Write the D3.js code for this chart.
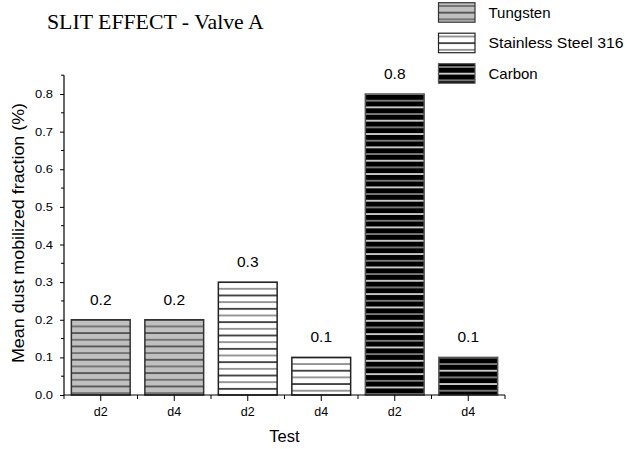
<!DOCTYPE html>
<html>
<head>
<meta charset="utf-8">
<script src="https://cdn.jsdelivr.net/npm/d3@7"></script>
<style>
  html, body { margin: 0; padding: 0; background: #fff; }
  svg { display: block; }
  text { font-family: "Liberation Sans", Arial, sans-serif; fill: #000; }
</style>
</head>
<body>
<svg id="chart" width="627" height="449"></svg>
<script>
// Chart data
const materials = ["Tungsten", "Stainless Steel 316", "Carbon"];
const tests = ["d2", "d4", "d2", "d4", "d2", "d4"];
const barMaterial = ["Tungsten", "Tungsten", "Stainless Steel 316", "Stainless Steel 316", "Carbon", "Carbon"];
const values = [0.2, 0.2, 0.3, 0.1, 0.8, 0.1];
const valueLabels = ["0.2", "0.2", "0.3", "0.1", "0.8", "0.1"];
const yTickValues = [0.0, 0.1, 0.2, 0.3, 0.4, 0.5, 0.6, 0.7, 0.8];
const yMinorTicks = [0.05, 0.15, 0.25, 0.35, 0.45, 0.55, 0.65, 0.75, 0.85];

// Hatch styles per material: fill, two alternating line colours, border
const styles = {
  "Tungsten": { fill: "#c0c0c0", lineA: "#3a3a3a", lineB: "#5e5e5e", stroke: "#333" },
  "Stainless Steel 316": { fill: "#ffffff", lineA: "#111111", lineB: "#777777", stroke: "#222" },
  "Carbon": { fill: "#000000", lineA: "#ffffff", lineB: "#9a9a9a", stroke: "#555" }
};

const svg = d3.select("#chart");
const defs = svg.append("defs");
const hatchStep = 6.67;

const x = d3.scaleBand()
  .domain(d3.range(values.length))
  .range([64, 505])
  .paddingInner(0.2)
  .paddingOuter(0.1);

const y = d3.scaleLinear().domain([0, 0.85]).range([395, 75.2]);

// One hatch pattern per bar so lines start from the bar top
function makePattern(id, style, originY) {
  const p = defs.append("pattern")
    .attr("id", id)
    .attr("patternUnits", "userSpaceOnUse")
    .attr("x", 0).attr("y", originY)
    .attr("width", 10).attr("height", hatchStep * 2);
  p.append("rect").attr("width", 10).attr("height", hatchStep * 2).attr("fill", style.fill);
  p.append("rect").attr("x", 0).attr("y", hatchStep - 0.75).attr("width", 10).attr("height", 1.5).attr("fill", style.lineB);
  p.append("rect").attr("x", 0).attr("y", hatchStep * 2 - 0.75).attr("width", 10).attr("height", 1.5).attr("fill", style.lineA);
  p.append("rect").attr("x", 0).attr("y", -0.75).attr("width", 10).attr("height", 1.5).attr("fill", style.lineA);
}

// Bars
values.forEach((v, i) => {
  const st = styles[barMaterial[i]];
  makePattern("hatch" + i, st, y(v));
});

svg.append("g").selectAll("rect")
  .data(values)
  .join("rect")
  .attr("x", (d, i) => x(i))
  .attr("y", d => y(d))
  .attr("width", x.bandwidth())
  .attr("height", d => y(0) - y(d))
  .attr("fill", (d, i) => `url(#hatch${i})`)
  .attr("stroke", (d, i) => styles[barMaterial[i]].stroke)
  .attr("stroke-width", 1.5);

// Value labels
svg.append("g").selectAll("text")
  .data(values)
  .join("text")
  .attr("x", (d, i) => x(i) + x.bandwidth() / 2)
  .attr("y", d => y(d) - 15)
  .attr("text-anchor", "middle")
  .attr("font-size", 15.5)
  .text((d, i) => valueLabels[i]);

// Y axis
const yAxis = d3.axisLeft(y)
  .tickValues(yTickValues)
  .tickFormat(d3.format(".1f"))
  .tickSize(4)
  .tickPadding(7);
const gy = svg.append("g").attr("transform", "translate(64,0)").call(yAxis);
gy.select(".domain").attr("d", `M0,${y(0.85)}V${y(0)}`).attr("stroke", "#000").attr("stroke-width", 1.2);
gy.selectAll(".tick line").attr("stroke", "#000");
gy.selectAll(".tick text")
  .attr("font-size", 11)
  .attr("font-family", "Liberation Sans, Arial, sans-serif")
  .attr("textLength", 18)
  .attr("lengthAdjust", "spacingAndGlyphs");
gy.append("g").selectAll("line")
  .data(yMinorTicks)
  .join("line")
  .attr("x1", -3).attr("x2", 0)
  .attr("y1", d => y(d)).attr("y2", d => y(d))
  .attr("stroke", "#000");

// X axis
const xAxis = d3.axisBottom(x)
  .tickFormat(i => tests[i])
  .tickSize(6)
  .tickPadding(6);
const gx = svg.append("g").attr("transform", `translate(0,${y(0)})`).call(xAxis);
gx.select(".domain").attr("d", `M64,0H505`).attr("stroke", "#000").attr("stroke-width", 1.2);
gx.selectAll(".tick line").attr("stroke", "#000");
gx.selectAll(".tick text").attr("font-size", 12.5).attr("font-family", "Liberation Sans, Arial, sans-serif");
const bounds = d3.range(values.length + 1).map(i => 64 + i * x.step());
gx.append("g").selectAll("line")
  .data(bounds)
  .join("line")
  .attr("x1", d => d).attr("x2", d => d)
  .attr("y1", 0).attr("y2", 4)
  .attr("stroke", "#000");

// Axis titles
svg.append("text")
  .attr("x", 284.5).attr("y", 442)
  .attr("text-anchor", "middle")
  .attr("font-size", 16.5)
  .text("Test");

svg.append("text")
  .attr("transform", "translate(24,233) rotate(-90)")
  .attr("text-anchor", "middle")
  .attr("font-size", 16)
  .attr("textLength", 260)
  .attr("lengthAdjust", "spacingAndGlyphs")
  .text("Mean dust mobilized fraction (%)");

// Title
svg.append("text")
  .attr("x", 47).attr("y", 29)
  .style("font-family", "'Liberation Serif', 'Times New Roman', serif")
  .attr("font-size", 21.8)
  .text("SLIT EFFECT - Valve A");

// Legend
const legend = svg.append("g");
materials.forEach((m, k) => {
  const st = styles[m];
  const top = 2.7 + k * 30.5;
  makePattern("legendHatch" + k, st, top + 3.3 - hatchStep);
  legend.append("rect")
    .attr("x", 438.5).attr("y", top)
    .attr("width", 36.5).attr("height", 19.5)
    .attr("fill", `url(#legendHatch${k})`)
    .attr("stroke", st.stroke)
    .attr("stroke-width", 1.2);
  const label = legend.append("text")
    .attr("x", 488.5).attr("y", top + 15)
    .attr("font-size", 15)
    .text(m);
  if (m === "Stainless Steel 316") {
    label.attr("textLength", 135).attr("lengthAdjust", "spacingAndGlyphs");
  }
});
</script>
</body>
</html>
